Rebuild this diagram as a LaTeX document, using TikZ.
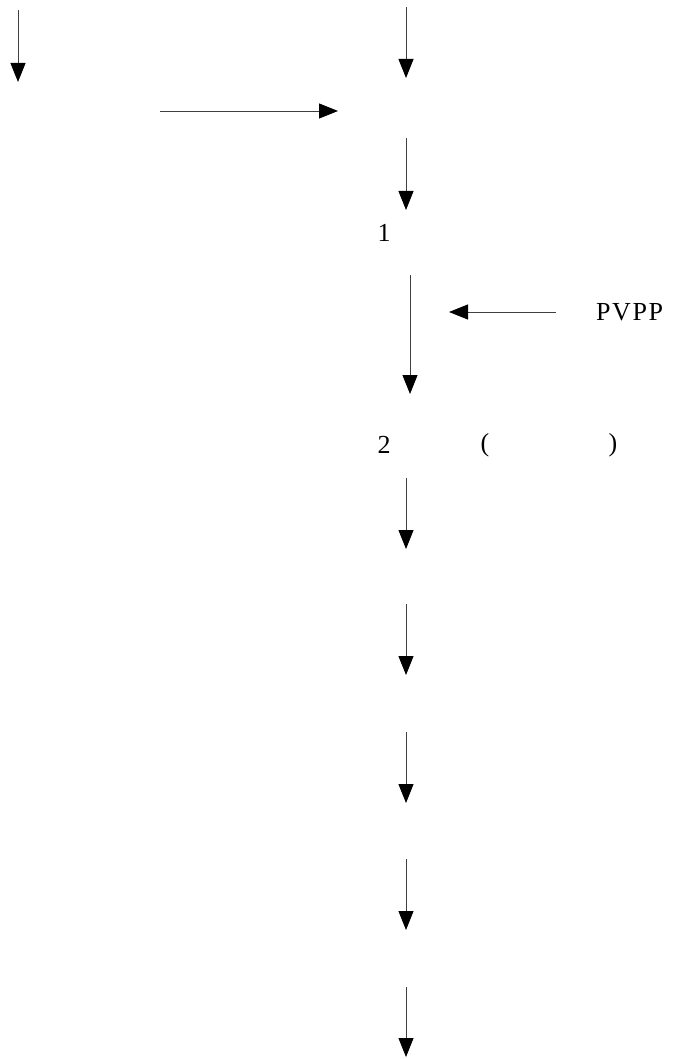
\documentclass[tikz,border=0pt]{standalone}
\usepackage{fontspec}
\setmainfont{Liberation Serif}
\usetikzlibrary{arrows.meta}
\begin{document}
\begin{tikzpicture}[x=1pt,y=-1pt,
  flow/.style={draw=black!75,line width=0.9pt,-{Triangle[length=19pt,width=15pt,fill=black,color=black]}},
  lbl/.style={inner sep=0pt,font=\fontsize{26}{30}\selectfont}]
\useasboundingbox (0,0) rectangle (676,1059);
% coordinates
\coordinate (a1s) at (18,10);  \coordinate (a1e) at (18,82);
\coordinate (a2s) at (406,7);  \coordinate (a2e) at (406,78);
\coordinate (hs) at (160,111); \coordinate (he) at (338,111);
\coordinate (a3s) at (406,138); \coordinate (a3e) at (406,210);
\coordinate (a4s) at (410,275); \coordinate (a4e) at (410,394);
\coordinate (ps) at (556,312); \coordinate (pe) at (449,312);
\coordinate (a5s) at (406,478); \coordinate (a5e) at (406,549);
\coordinate (a6s) at (406,604); \coordinate (a6e) at (406,675);
\coordinate (a7s) at (406,732); \coordinate (a7e) at (406,803);
\coordinate (a8s) at (406,859); \coordinate (a8e) at (406,930);
\coordinate (a9s) at (406,987); \coordinate (a9e) at (406,1057);
% labels
\node[lbl] (one) at (384,233) {1};
\node[lbl,anchor=west] (pvpp) at (596,312) {\addfontfeatures{LetterSpace=6}PVPP};
\node[lbl] (two) at (384,445) {2};
\node[lbl] (lp) at (485,445) {(};
\node[lbl] (rp) at (613,445) {)};
% arrows
\draw[flow] (a1s) -- (a1e);
\draw[flow] (a2s) -- (a2e);
\draw[flow] (hs) -- (he);
\draw[flow] (a3s) -- (a3e);
\draw[flow] (a4s) -- (a4e);
\draw[flow] (ps) -- (pe);
\draw[flow] (a5s) -- (a5e);
\draw[flow] (a6s) -- (a6e);
\draw[flow] (a7s) -- (a7e);
\draw[flow] (a8s) -- (a8e);
\draw[flow] (a9s) -- (a9e);
\end{tikzpicture}
\end{document}
